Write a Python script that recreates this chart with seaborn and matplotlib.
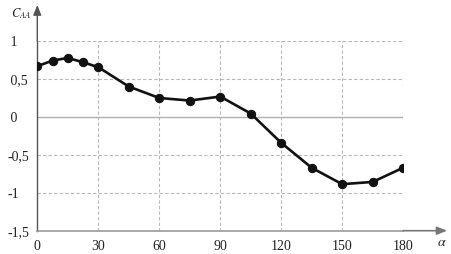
import matplotlib
matplotlib.use("Agg")
import matplotlib.pyplot as plt
import seaborn as sns
import pandas as pd

angles = [0, 7.5, 15, 22.5, 30, 45, 60, 75, 90, 105, 120, 135, 150, 165, 180]
c_aa = [0.668, 0.742, 0.777, 0.72, 0.655, 0.40, 0.249, 0.215, 0.268, 0.044,
        -0.342, -0.671, -0.887, -0.857, -0.67]
x_ticks = [0, 30, 60, 90, 120, 150, 180]
x_labels = ["0", "30", "60", "90", "120", "150", "180"]
y_ticks = [1, 0.5, 0, -0.5, -1, -1.5]
y_labels = [" 1", " 0,5", " 0", "-0,5", "-1", "-1,5"]

sns.set_theme(style="white")
plt.rcParams["font.family"] = ["Liberation Serif", "DejaVu Serif"]
plt.rcParams["mathtext.fontset"] = "stix"

df = pd.DataFrame({"alpha": angles, "c": c_aa})

fig = plt.figure(figsize=(4.52, 2.54), dpi=100)
ax = fig.add_axes([0.0825, 0.0917, 0.892 - 0.0825, 0.8386 - 0.0917])

sns.lineplot(data=df, x="alpha", y="c", ax=ax, color="#111111", linewidth=1.9,
             marker="o", markersize=6, markeredgecolor="#111111", zorder=5)

ax.set_xlim(0, 180)
ax.set_ylim(-1.5, 1)
ax.set_xticks(x_ticks)
ax.set_xticklabels(x_labels)
ax.set_yticks(y_ticks)
ax.set_yticklabels(y_labels)
ax.set_xlabel("")
ax.set_ylabel("")

for v in [30, 60, 90, 120, 150, 180]:
    ax.axvline(v, color="#b8b8b8", linestyle=(0, (3, 2)), linewidth=0.8, zorder=1)
for v in [1, 0.5, -0.5, -1]:
    ax.axhline(v, color="#b8b8b8", linestyle=(0, (3, 2)), linewidth=0.8, zorder=1)
ax.axhline(0, color="#b0b0b0", linewidth=1.0, zorder=1)

for s in ["top", "right"]:
    ax.spines[s].set_visible(False)
ax.spines["left"].set_color("#555555")
ax.spines["left"].set_linewidth(1.0)
ax.spines["bottom"].set_color("#999999")
ax.spines["bottom"].set_linewidth(1.2)

ax.tick_params(axis="both", length=0, labelsize=10, colors="#222222")
ax.tick_params(axis="x", pad=7)
for lbl in ax.get_yticklabels():
    lbl.set_horizontalalignment("left")
ax.tick_params(axis="y", pad=21.5)

# axis arrows
ax.annotate("", xy=(0, 1.19), xytext=(0, 1.0), xycoords="axes fraction",
            arrowprops=dict(arrowstyle="-|>,head_length=0.5,head_width=0.2",
                            color="#555555", lw=1.0, shrinkA=0, shrinkB=0),
            annotation_clip=False)
ax.annotate("", xy=(1.12, 0), xytext=(1.0, 0), xycoords="axes fraction",
            arrowprops=dict(arrowstyle="-|>,head_length=0.5,head_width=0.2",
                            color="#777777", lw=1.2, shrinkA=0, shrinkB=0),
            annotation_clip=False)

fig.text(11 / 452, 1 - 14 / 254, r"$C_{AA}$", fontsize=9, color="#222222",
         ha="left", va="center")
fig.text(437 / 452, 1 - 243 / 254, r"$\alpha$", fontsize=10, color="#222222",
         ha="left", va="center")

fig.savefig("out.png", dpi=100)
